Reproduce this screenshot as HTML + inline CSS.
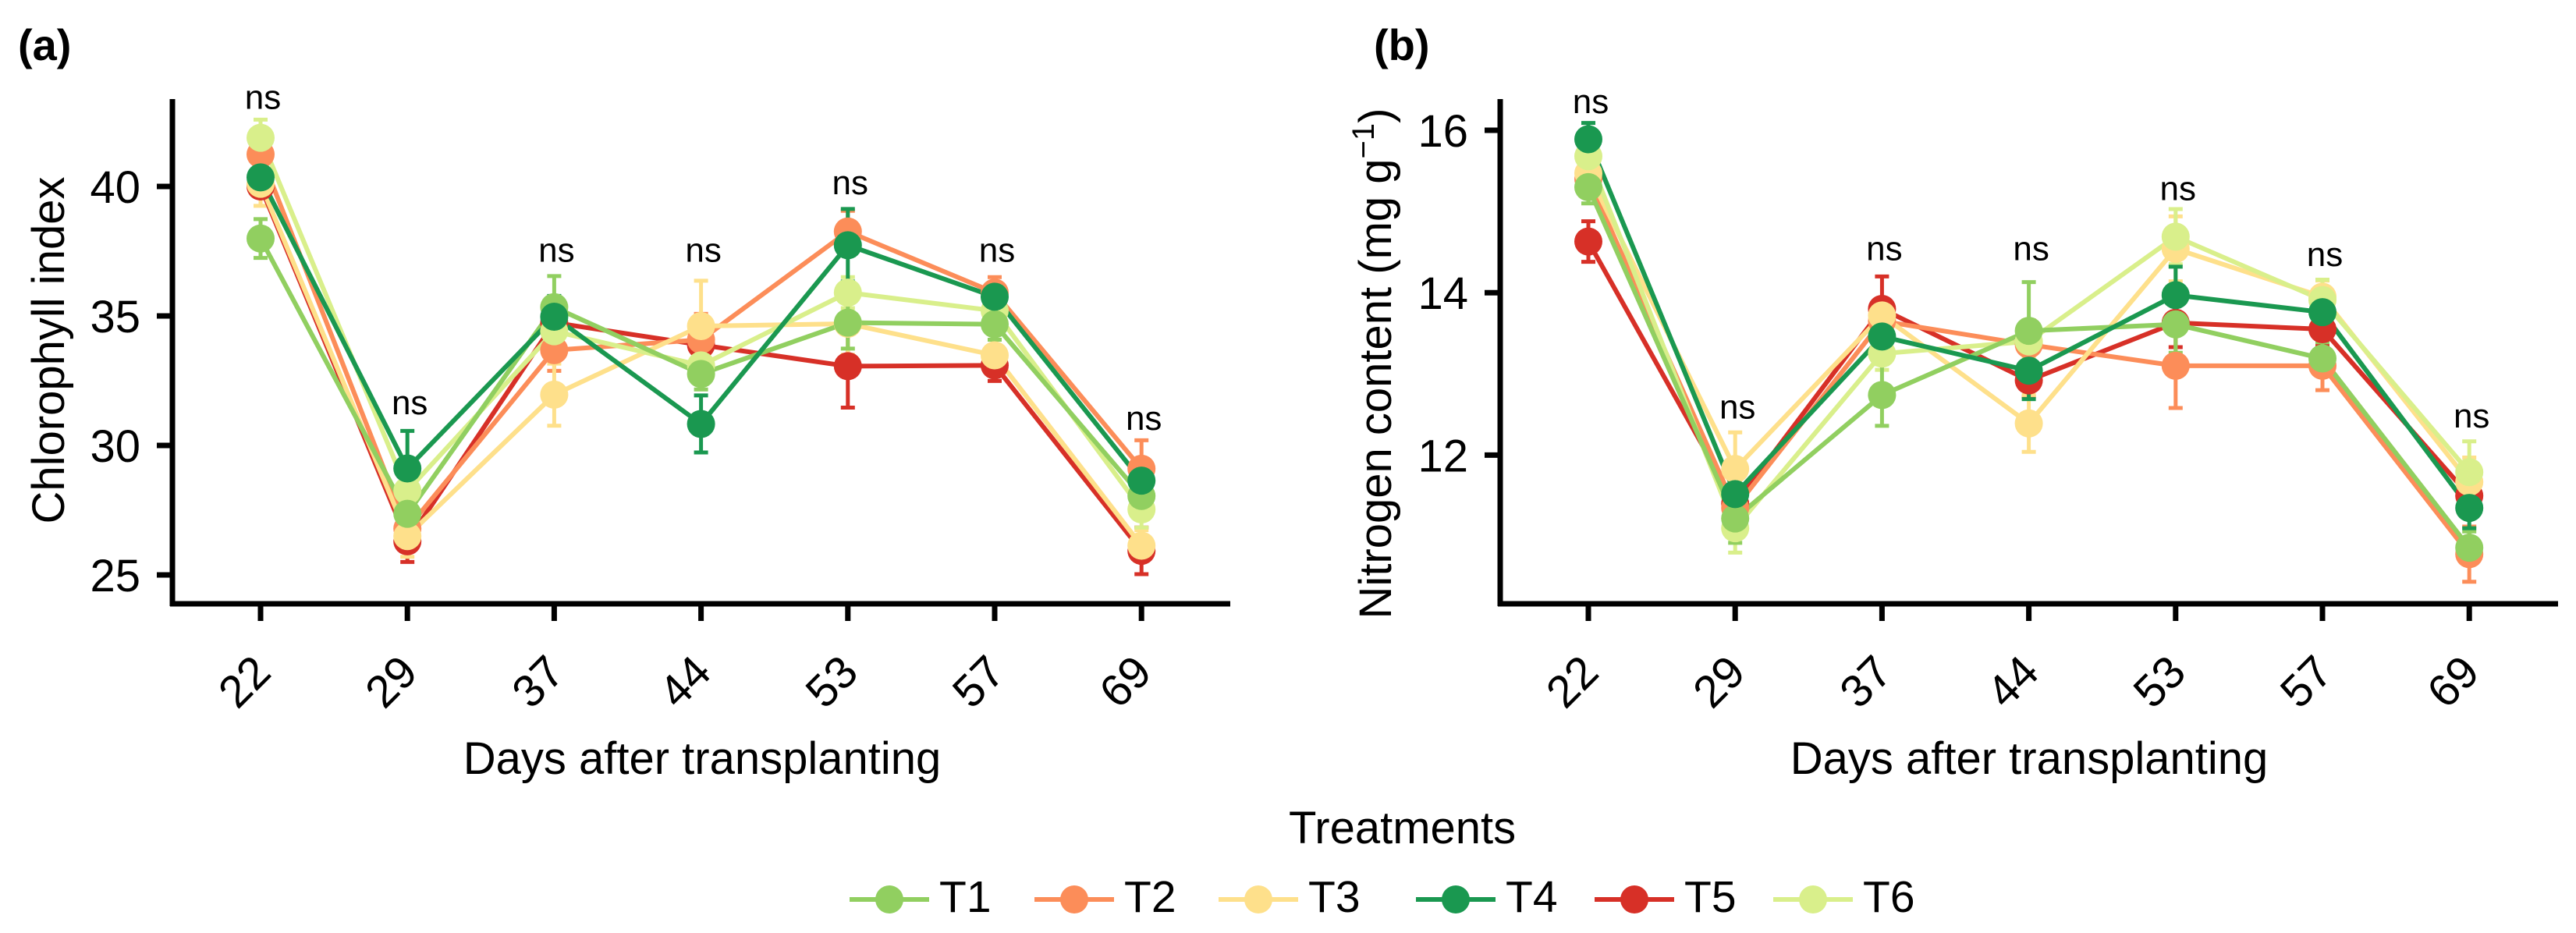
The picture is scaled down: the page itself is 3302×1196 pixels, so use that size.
<!DOCTYPE html>
<html><head><meta charset="utf-8"><style>
html,body{margin:0;padding:0;background:#fff;}
svg{display:block;font-family:"Liberation Sans",Arial,sans-serif;}
</style></head><body>
<svg id="fig" width="3302" height="1196" viewBox="0 0 3302 1196" xmlns="http://www.w3.org/2000/svg">
<text x="23" y="77" font-size="56" font-weight="bold">(a)</text>
<text x="1761" y="77" font-size="56" font-weight="bold">(b)</text>
<text transform="translate(82,449) rotate(-90)" text-anchor="middle" font-size="58">Chlorophyll index</text>
<text transform="translate(1783,466) rotate(-90)" text-anchor="middle" font-size="58">Nitrogen content (mg g<tspan baseline-shift="super" font-size="40">−1</tspan>)</text>
<text x="900" y="992" text-anchor="middle" font-size="58">Days after transplanting</text>
<text x="2601" y="992" text-anchor="middle" font-size="58">Days after transplanting</text>
<text x="1652" y="1081" font-size="58">Treatments</text>
<g id="legend"></g>
<g id="pa"></g>
<g id="pb"></g>
</svg>
<script>
const days = ["22","29","37","44","53","57","69"];
const treatments = ["T1","T2","T3","T4","T5","T6"];
const colors = ["#91CF60","#FC8D59","#FEE08B","#1A9850","#D73027","#D9EF8B"];
const drawOrder = [4,1,2,5,0,3];

const chlT1 = [37.99,27.36,35.34,32.76,34.74,34.68,28.05];
const chlT2 = [41.24,26.79,33.68,34.08,38.26,35.9,29.1];
const chlT3 = [40.1,26.5,31.96,34.61,34.7,33.48,26.13];
const chlT4 = [40.35,29.11,34.97,30.83,37.73,35.74,28.64];
const chlT5 = [40.0,26.3,34.74,33.88,33.06,33.09,25.93];
const chlT6 = [41.88,28.25,34.41,33.09,35.9,35.2,27.53];
const chlSdT1 = [0.75,0.6,1.2,0.6,1.0,0.6,0.5];
const chlSdT2 = [0.5,0.8,0.8,1.0,0.8,0.6,1.1];
const chlSdT3 = [0.85,0.8,1.2,1.75,1.2,0.6,0.6];
const chlSdT4 = [0.5,1.45,0.8,1.1,1.4,0.5,0.8];
const chlSdT5 = [0.4,0.8,0.6,1.0,1.6,0.6,0.9];
const chlSdT6 = [0.7,0.6,0.6,0.7,0.6,0.4,0.7];
const chlNs = [43.0,31.2,37.1,37.1,39.7,37.1,30.6];
const chlTicks = [25,30,35,40];

const nT1 = [15.30,11.22,12.74,13.53,13.61,13.19,10.86];
const nT2 = [15.40,11.35,13.65,13.36,13.10,13.10,10.78];
const nT3 = [15.47,11.83,13.72,12.39,14.54,13.95,11.67];
const nT4 = [15.89,11.52,13.46,13.04,13.97,13.76,11.35];
const nT5 = [14.63,11.40,13.80,12.92,13.63,13.55,11.50];
const nT6 = [15.68,11.10,13.25,13.40,14.69,13.91,11.79];
const nSdT1 = [0.2,0.3,0.38,0.6,0.35,0.2,0.2];
const nSdT2 = [0.2,0.35,0.15,0.3,0.52,0.3,0.34];
const nSdT3 = [0.2,0.45,0.2,0.35,0.4,0.2,0.3];
const nSdT4 = [0.2,0.3,0.2,0.35,0.35,0.3,0.25];
const nSdT5 = [0.25,0.3,0.4,0.2,0.3,0.2,0.2];
const nSdT6 = [0.2,0.3,0.2,0.2,0.34,0.25,0.38];
const nNs = [16.21,12.45,14.40,14.40,15.14,14.33,12.34];
const nTicks = [12,14,16];

const NS = "http://www.w3.org/2000/svg";
function mk(tag, attrs, parent){
  const e = document.createElementNS(NS, tag);
  for (const k in attrs) e.setAttribute(k, attrs[k]);
  parent.appendChild(e);
  return e;
}

function drawPanel(g, x0, yFn, series, sds, ticks, nsVals, key){
  const xFn = i => x0 + 113 + i*188.2;
  const ya = mk("line",{x1:x0,y1:127,x2:x0,y2:777,stroke:"#000","stroke-width":7},g);
  
  
  const xa = mk("line",{x1:x0-3,y1:774,x2:x0+1356,y2:774,stroke:"#000","stroke-width":7},g);
  
  
  ticks.forEach(t=>{
    const y = yFn(t);
    const tl = mk("line",{x1:x0-20,y1:y,x2:x0,y2:y,stroke:"#000","stroke-width":7},g);
    
    
    const tx = mk("text",{x:x0-41,y:y+21,"text-anchor":"end","font-size":58},g);
    tx.textContent = String(t);
    
    
  });
  days.forEach((d,i)=>{
    const x = xFn(i);
    const tl = mk("line",{x1:x,y1:774,x2:x,y2:796,stroke:"#000","stroke-width":7},g);
    
    
    const tx = mk("text",{transform:"translate("+(x+16)+",865) rotate(-45)","text-anchor":"end","font-size":58},g);
    tx.textContent = d;
    
    
    const ns = mk("text",{x:x+3,y:yFn(nsVals[i]),"text-anchor":"middle","font-size":44},g);
    ns.textContent = "ns";
    
    
  });
  drawOrder.forEach(s=>{
    series[s].forEach((v,i)=>{
      const x = xFn(i), yt = yFn(v+sds[s][i]), yb = yFn(v-sds[s][i]);
      const eb = mk("path",{d:"M"+x+","+yt+"V"+yb+"M"+(x-9)+","+yt+"H"+(x+9)+"M"+(x-9)+","+yb+"H"+(x+9),stroke:colors[s],"stroke-width":5,fill:"none"},g);
      
      
    });
  });
  drawOrder.forEach(s=>{
    const pts = series[s].map((v,i)=>xFn(i)+","+yFn(v)).join(" ");
    const pl = mk("polyline",{points:pts,stroke:colors[s],"stroke-width":6,fill:"none","stroke-linejoin":"round"},g);
    
    
  });
  drawOrder.forEach(s=>{
    series[s].forEach((v,i)=>{
      const c = mk("circle",{cx:xFn(i),cy:yFn(v),r:18,fill:colors[s]},g);
      
      
    });
  });
}

const yA = v => 239 + (40 - v)*33.2;
const yB = v => 167 + (16 - v)*104.1;
drawPanel(document.getElementById("pa"), 221, yA,
  [chlT1,chlT2,chlT3,chlT4,chlT5,chlT6],
  [chlSdT1,chlSdT2,chlSdT3,chlSdT4,chlSdT5,chlSdT6], chlTicks, chlNs, "a");
drawPanel(document.getElementById("pb"), 1923, yB,
  [nT1,nT2,nT3,nT4,nT5,nT6],
  [nSdT1,nSdT2,nSdT3,nSdT4,nSdT5,nSdT6], nTicks, nNs, "b");

const lg = document.getElementById("legend");
const legX = [1140,1377,1613,1866,2095,2324];
treatments.forEach((t,i)=>{
  const cx = legX[i];
  const ln = mk("line",{x1:cx-51,y1:1153,x2:cx+51,y2:1153,stroke:colors[i],"stroke-width":6},lg);
  
  
  const c = mk("circle",{cx:cx,cy:1153,r:18,fill:colors[i]},lg);
  
  
  const tx = mk("text",{x:cx+64,y:1169,"font-size":57},lg);
  tx.textContent = t;
  
  
});
</script>
</body></html>
